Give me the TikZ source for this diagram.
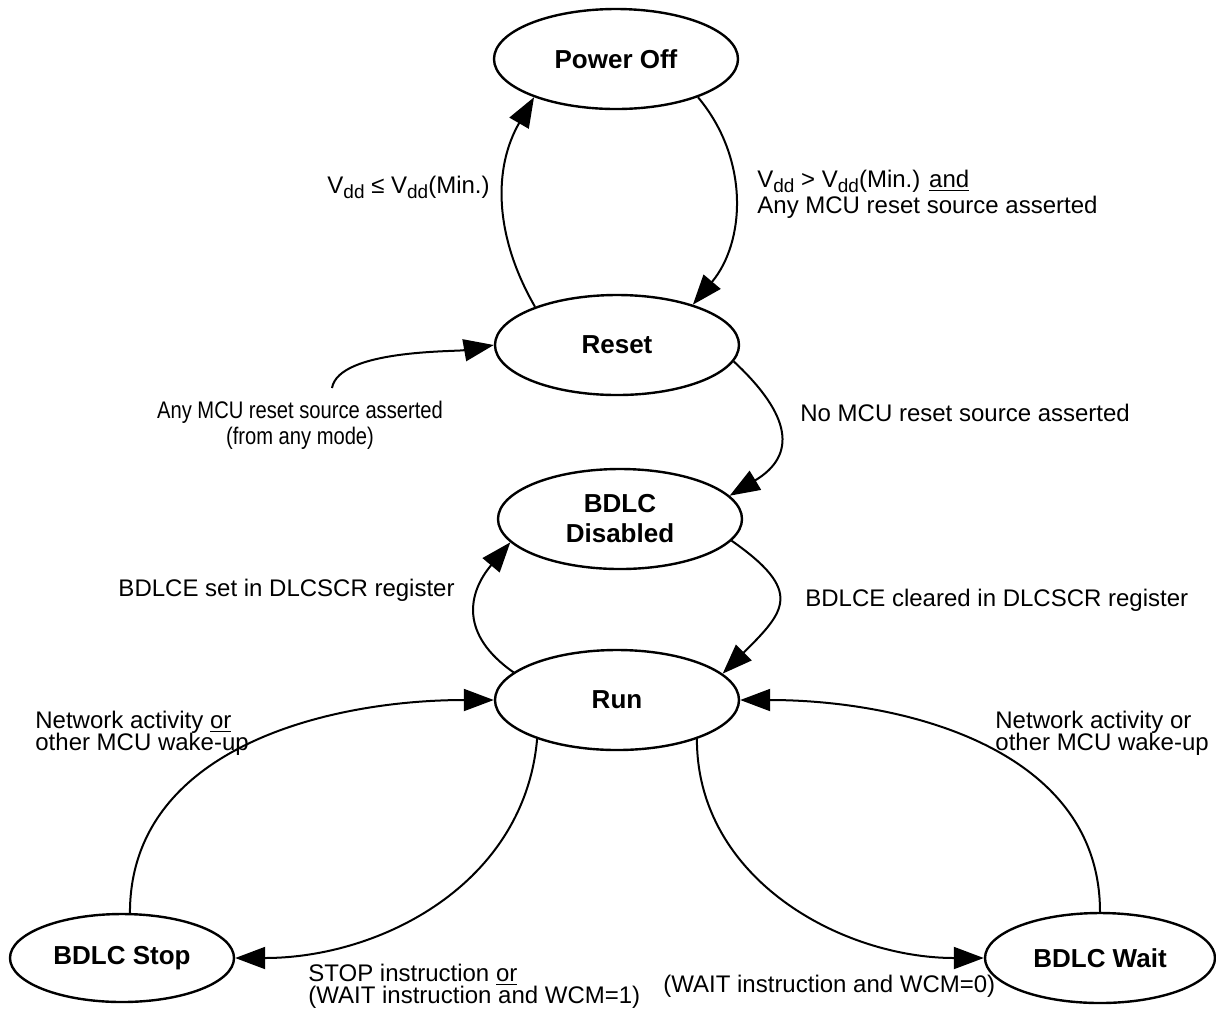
\documentclass[tikz,border=0pt]{standalone}
\usepackage{fontspec}
\setmainfont{Liberation Sans}
\newfontfamily\narrowfont{Liberation Sans}[FakeStretch=0.84]
\usetikzlibrary{arrows.meta,shapes.geometric}

\newcommand{\Vdd}{V\raisebox{-2.5pt}{\fontsize{9.5}{9.5}\selectfont dd}}
\newcommand{\tightlines}{\setlength{\lineskiplimit}{-20pt}\setlength{\lineskip}{0pt}}

\begin{document}
\begin{tikzpicture}[
    x=0.5pt, y=0.5pt,
    state/.style={draw, ellipse, line width=1.2pt, minimum width=122pt, minimum height=50pt, inner sep=0pt, align=center, font=\fontsize{13}{15}\selectfont\bfseries},
    trans/.style={line width=1pt, -{Triangle[length=15pt, width=11pt]}},
    lbl/.style={inner sep=0pt, align=left, font=\fontsize{12}{11}\selectfont\tightlines},
]
\useasboundingbox (0,0) rectangle (1216,-1009);

% states
\node[state] (poweroff) at (616,-59) {Power Off};
\node[state] (reset) at (617,-345) {Reset};
\node[state] (disabled) at (620,-519) {BDLC\\Disabled};
\node[state] (run) at (617,-700) {Run};
\node[state, minimum width=112pt, minimum height=44pt] (stop) at (122,-958) {BDLC Stop};
\node[state, minimum width=115pt, minimum height=45pt] (wait) at (1100,-958) {BDLC Wait};

% power off <-> reset
\draw[trans] (reset.155) to[out=120, in=240] (poweroff.205);
\draw[trans] (poweroff.-25) to[out=-50, in=50] (reset.28);
\node[lbl, anchor=east] (lowvdd) at (490,-187) {\Vdd{} ≤ \Vdd(Min.)};
\node[lbl, anchor=north west] (okvdd) at (757,-170) {\Vdd{} > \Vdd(Min.) \underline{and}\\[2pt]Any MCU reset source asserted};

% reset from anywhere
\coordinate (anysrc) at (332,-388);
\draw[trans] (anysrc) to[out=80, in=190, looseness=0.6] (reset.180);
\node[lbl, align=center, anchor=north, font=\fontsize{12}{13}\narrowfont] (anylbl) at (300,-401) {Any MCU reset source asserted\\(from any mode)};

% reset -> disabled
\draw[trans] (reset.-8) to[out=-43, in=31, looseness=1.5] (disabled.12);
\node[lbl, anchor=west] (nolbl) at (800,-413) {No MCU reset source asserted};

% disabled <-> run
\draw[trans] (run.165) to[out=145, in=230, looseness=1.3] (disabled.192);
\draw[trans] (disabled.-11) to[out=-35, in=45, looseness=1.7] (run.14);
\node[lbl, anchor=east] (setlbl) at (455,-590) {BDLCE set in DLCSCR register};
\node[lbl, anchor=west] (clrlbl) at (805,-600) {BDLCE cleared in DLCSCR register};

% run <-> stop
\draw[trans] (stop.80) to[out=90, in=180] (run.180);
\draw[trans] (run.206) to[out=-95, in=0] (stop.0);
\node[lbl, anchor=north west] (wakel) at (35,-711) {Network activity \underline{or}\\other MCU wake-up};
\node[lbl, anchor=north west] (stoplbl) at (308,-964) {STOP instruction \underline{or}\\(WAIT instruction and WCM=1)};

% run <-> wait
\draw[trans] (run.-26) to[out=-90, in=180] (wait.180);
\draw[trans] (wait.90) to[out=90, in=0] (run.0);
\node[lbl, anchor=north west] (waker) at (995,-711) {Network activity or\\other MCU wake-up};
\node[lbl, anchor=north west] (waitlbl) at (663,-975) {(WAIT instruction and WCM=0)};
\end{tikzpicture}
\end{document}
